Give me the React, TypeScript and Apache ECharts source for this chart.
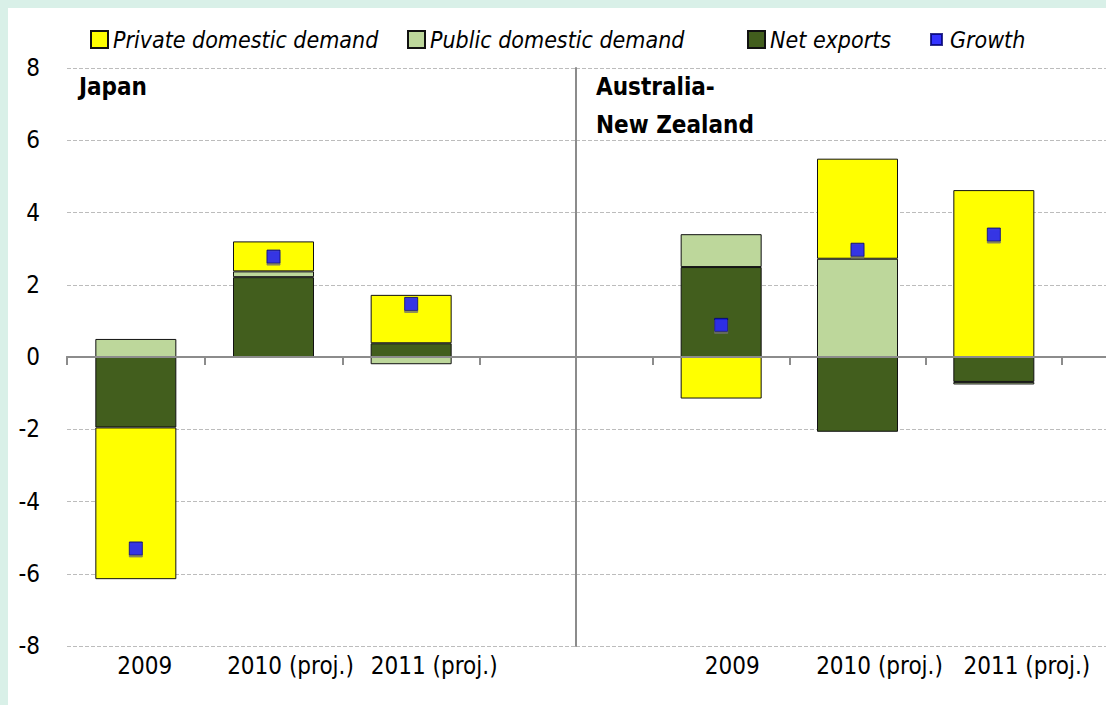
import React, { useEffect, useRef } from "react";
import * as echarts from "echarts";

const categories = ["2009", "2010 (proj.)", "2011 (proj.)"];
const seriesNames = ["Private domestic demand", "Public domestic demand", "Net exports", "Growth"];
const panelTitles = ["Japan", "Australia-\nNew Zealand"];

const japanPrivate = [-4.2, 0.83, 1.34];
const japanPublic = [0.5, 0.16, -0.2];
const japanNetExports = [-1.95, 2.21, 0.38];
const japanGrowth = [-5.3, 2.78, 1.47];

const anzPrivate = [-1.15, 2.77, 4.62];
const anzPublic = [0.91, 2.72, -0.07];
const anzNetExports = [2.49, -2.07, -0.69];
const anzGrowth = [0.89, 2.97, 3.39];

const yMin = -8;
const yMax = 8;
const yStep = 2;

const FONT = "'DejaVu Sans Condensed', 'Liberation Sans Narrow', sans-serif";
const C_PRIVATE = "#ffff00";
const C_PUBLIC = "#bdd79b";
const C_NET = "#425e1d";
const C_GROWTH = "#0000ff";
const AXIS_GRAY = "#8c8c8c";

export default function App() {
  const ref = useRef<HTMLDivElement>(null);
  useEffect(() => {
    document.body.style.margin = "0";
    document.body.style.overflow = "hidden";
    const chart = echarts.init(ref.current!, null, { renderer: "svg" });

    const top = 60;
    const height = 578;
    const grids = [
      { left: 59, top, width: 509, height },
      { left: 568, top, width: 530, height },
      { left: 59, top, width: 413, height },
      { left: 645, top, width: 409, height },
    ];

    const bgX = (gi: number) => ({
      type: "value",
      gridIndex: gi,
      min: 0,
      max: 1,
      axisLine: { show: true, onZero: true, lineStyle: { color: AXIS_GRAY, width: 2 } },
      axisTick: { show: false },
      axisLabel: { show: false },
      splitLine: { show: false },
    });
    const tickX = (gi: number) => ({
      type: "category",
      gridIndex: gi,
      data: categories,
      position: "bottom",
      boundaryGap: true,
      axisLine: { show: true, onZero: true, lineStyle: { color: AXIS_GRAY, width: 2 } },
      axisTick: { show: true, interval: 0, length: 8, lineStyle: { color: AXIS_GRAY, width: 2 } },
      axisLabel: { show: false },
      splitLine: { show: false },
      z: 10,
    });
    const labelStyle = (pad: number) => ({
      fontSize: 24,
      fontFamily: FONT,
      color: "#000",
      padding: [0, 0, 0, pad],
    });
    const labelX = (gi: number, pads: number[]) => ({
      type: "category",
      gridIndex: gi,
      data: categories,
      position: "bottom",
      axisLine: { show: false, onZero: false },
      axisTick: { show: false },
      axisLabel: {
        show: true,
        interval: 0,
        margin: 8,
        color: "#000",
        fontSize: 24,
        fontFamily: FONT,
        formatter: (v: string, i: number) => `{s${i}|${v}}`,
        rich: { s0: labelStyle(pads[0]), s1: labelStyle(pads[1]), s2: labelStyle(pads[2]) },
      },
      splitLine: { show: false },
    });

    const splitLine = { show: true, lineStyle: { type: [4, 2], color: "#bcbcbc", width: 1 } };

    const yAxes = [
      {
        type: "value",
        gridIndex: 0,
        min: yMin,
        max: yMax,
        interval: yStep,
        axisLine: { show: false },
        axisTick: { show: false },
        axisLabel: { show: true, margin: 27, color: "#000", fontSize: 24, fontFamily: FONT },
        splitLine,
      },
      {
        type: "value",
        gridIndex: 1,
        min: yMin,
        max: yMax,
        interval: yStep,
        axisLine: { show: true, onZero: true, lineStyle: { color: AXIS_GRAY, width: 2 } },
        axisTick: { show: false },
        axisLabel: { show: false },
        splitLine,
      },
      { type: "value", gridIndex: 2, min: yMin, max: yMax, interval: yStep, show: false },
      { type: "value", gridIndex: 3, min: yMin, max: yMax, interval: yStep, show: false },
    ];

    const bar = (name: string, data: number[], xi: number, yi: number, color: string, stack: string) => ({
      type: "bar",
      name,
      data,
      xAxisIndex: xi,
      yAxisIndex: yi,
      stack,
      barWidth: 81,
      itemStyle: { color, borderColor: "#111", borderWidth: 1 },
      z: 3,
    });
    const growth = (data: number[], xi: number, yi: number) => ({
      type: "scatter",
      name: seriesNames[3],
      data,
      xAxisIndex: xi,
      yAxisIndex: yi,
      symbol: "rect",
      symbolSize: 13,
      itemStyle: {
        color: C_GROWTH,
        borderColor: "#000070",
        borderWidth: 1,
        shadowColor: "rgba(110,110,110,0.95)",
        shadowBlur: 0,
        shadowOffsetX: 0,
        shadowOffsetY: 2,
      },
      z: 5,
    });

    const series = [
      bar(seriesNames[2], japanNetExports, 2, 2, C_NET, "jp"),
      bar(seriesNames[1], japanPublic, 2, 2, C_PUBLIC, "jp"),
      bar(seriesNames[0], japanPrivate, 2, 2, C_PRIVATE, "jp"),
      growth(japanGrowth, 2, 2),
      bar(seriesNames[2], anzNetExports, 4, 3, C_NET, "anz"),
      bar(seriesNames[1], anzPublic, 4, 3, C_PUBLIC, "anz"),
      bar(seriesNames[0], anzPrivate, 4, 3, C_PRIVATE, "anz"),
      growth(anzGrowth, 4, 3),
    ];

    const titleStyle = { fontSize: 24, fontWeight: "bold", fontFamily: FONT, color: "#000", lineHeight: 38 };

    const legendLefts = [82, 399, 739, 919];
    const legends = seriesNames.map((name, i) => ({
      left: legendLefts[i],
      top: 20,
      padding: 0,
      itemWidth: 17,
      itemHeight: 17,
      icon: "rect",
      textStyle: { fontSize: 23, fontStyle: "italic", fontFamily: FONT, color: "#000" },
      data: [
        i === 3 ? { name, icon: "path://M0,0M17,17M3,3h11v11h-11z" } : { name },
      ],
    }));

    chart.setOption({
      animation: false,
      backgroundColor: "#ffffff",
      title: [
        { text: panelTitles[0], left: 71, top: 60, padding: 0, textStyle: titleStyle },
        { text: panelTitles[1], left: 588, top: 60, padding: 0, textStyle: titleStyle },
      ],
      legend: legends,
      grid: grids,
      xAxis: [bgX(0), bgX(1), tickX(2), labelX(2, [18, 34, 46]), tickX(3), labelX(3, [22, 44, 66])],
      yAxis: yAxes,
      series,
    });
    return () => chart.dispose();
  }, []);
  return (
    <div
      style={{
        width: 1106,
        height: 705,
        boxSizing: "border-box",
        paddingLeft: 8,
        paddingTop: 8,
        background: "#d9f0e8",
      }}
    >
      <div ref={ref} style={{ width: 1098, height: 697 }} />
    </div>
  );
}
